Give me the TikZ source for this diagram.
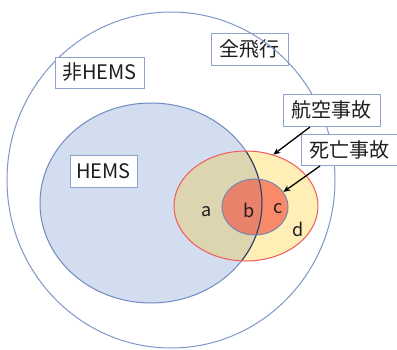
\documentclass[tikz,border=0pt]{standalone}
\usepackage{fontspec}
\setmainfont{Noto Sans CJK JP}
\usetikzlibrary{shapes.geometric,arrows.meta}
\definecolor{ringblue}{HTML}{7F97C7}
\definecolor{hemsfill}{HTML}{D2DDEF}
\definecolor{hemsline}{HTML}{6F8AC0}
\definecolor{accfill}{HTML}{FFEEB5}
\definecolor{tanfill}{HTML}{DCD5B0}
\definecolor{accline}{HTML}{F05A5A}
\definecolor{bfill}{HTML}{E8826A}
\definecolor{cfill}{HTML}{F88A6A}
\definecolor{fatline}{HTML}{7488B0}
\definecolor{boxline}{HTML}{8EA3CC}
\definecolor{txt}{HTML}{1E1E1E}
\tikzset{
  labelbox/.style={draw=boxline, line width=1pt, fill=white, inner sep=0pt, text=txt, font=\fontsize{20}{22}\selectfont},
  letter/.style={text=txt, font=\fontsize{18}{20}\selectfont, inner sep=0pt},
  outline/.style={ellipse, inner sep=0pt},
  pointer/.style={draw=black, line width=1.3pt, -{Stealth[length=7pt,width=6pt]}}
}
\begin{document}
\begin{tikzpicture}[x=1pt,y=-1pt]
\useasboundingbox (0,0) rectangle (397,349);
% label box under the big ring
\node[labelbox, minimum width=77pt, minimum height=32pt] (all) at (249.5,49) {全飛行};
% big ring
\node[outline, draw=ringblue, line width=1pt, minimum width=328pt, minimum height=336pt] (ring) at (171,180) {};
% HEMS fill
\fill[hemsfill] (151,203) ellipse [x radius=111, y radius=100];
% accident fill
\fill[accfill] (246,206) ellipse [x radius=72, y radius=55];
\fill[cfill] (255,207) ellipse [x radius=33, y radius=28];
\begin{scope}
  \clip (151,203) ellipse [x radius=111, y radius=100];
  \fill[tanfill] (246,206) ellipse [x radius=72, y radius=55];
  \fill[bfill] (255,207) ellipse [x radius=33, y radius=28];
\end{scope}
% outlines
\node[outline, draw=hemsline, line width=1pt, minimum width=222pt, minimum height=200pt] (hems) at (151,203) {};
\begin{scope}
  \clip (246,206) ellipse [x radius=72, y radius=55];
  \draw[color=black!55!hemsline, line width=1pt] (151,203) ellipse [x radius=111, y radius=100];
\end{scope}
\node[outline, draw=accline, line width=1pt, minimum width=144pt, minimum height=110pt] (acc) at (246,206) {};
\node[outline, draw=fatline, line width=1pt, minimum width=66pt, minimum height=56pt] (fatal) at (255,207) {};
% letters
\node[letter] (la) at (207,212) {a};
\node[letter] (lb) at (249,210) {b};
\node[letter] (lc) at (278,209) {c};
\node[letter] (ld) at (298,229) {d};
% label boxes
\node[labelbox, minimum width=89pt, minimum height=31pt] (nonhems) at (99.5,72.5) {非HEMS};
\node[labelbox, minimum width=67pt, minimum height=32pt] (hemslab) at (103.5,171) {HEMS};
\node[labelbox, minimum width=97pt, minimum height=32pt] (kouku) at (331.5,110) {航空事故};
\node[labelbox, minimum width=96pt, minimum height=31pt] (shibou) at (349.5,149.5) {死亡事故};
% arrows
\coordinate (k0) at (310,127);
\coordinate (s0) at (320,166);
\draw[pointer] (k0) -- (acc.62);
\draw[pointer] (s0) -- (fatal.28);
\end{tikzpicture}
\end{document}
